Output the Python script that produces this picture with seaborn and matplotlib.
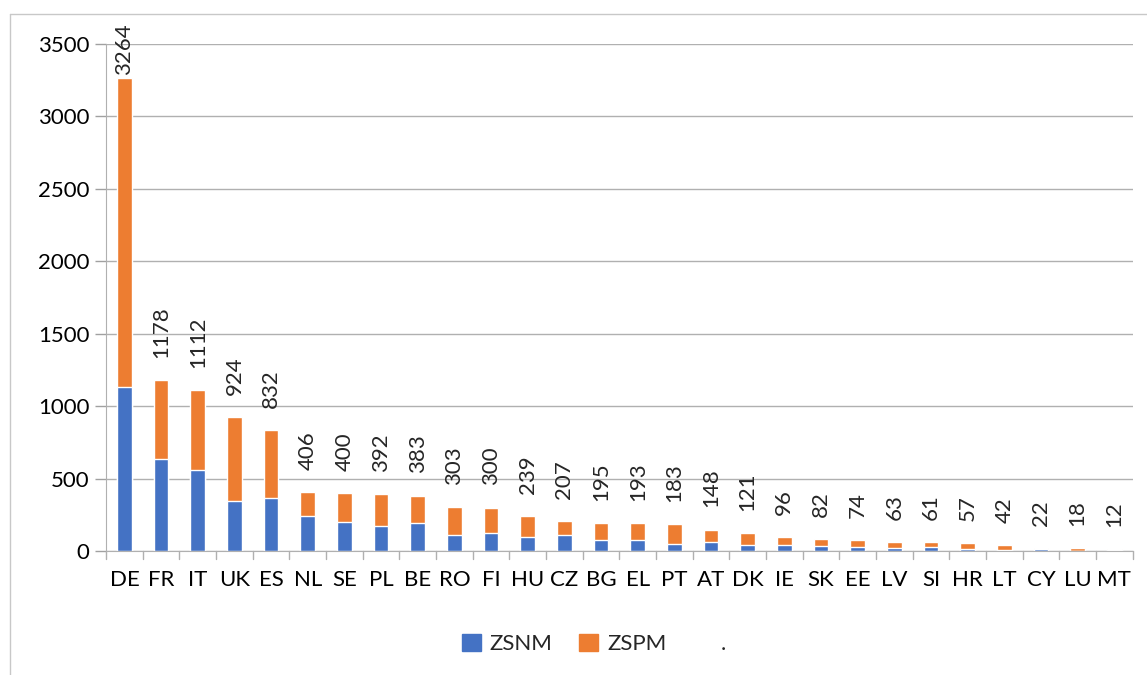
import pandas as pd
import seaborn as sns
import matplotlib.pyplot as plt
from matplotlib.patches import Patch
from matplotlib.lines import Line2D

countries = ['DE', 'FR', 'IT', 'UK', 'ES', 'NL', 'SE', 'PL', 'BE', 'RO', 'FI', 'HU', 'CZ', 'BG',
             'EL', 'PT', 'AT', 'DK', 'IE', 'SK', 'EE', 'LV', 'SI', 'HR', 'LT', 'CY', 'LU', 'MT']
totals = [3264, 1178, 1112, 924, 832, 406, 400, 392, 383, 303, 300, 239, 207, 195,
          193, 183, 148, 121, 96, 82, 74, 63, 61, 57, 42, 22, 18, 12]
zsnm = [1135, 633, 561, 345, 368, 244, 202, 175, 195, 110, 126, 99, 110, 78,
        78, 51, 64, 44, 41, 37, 30, 23, 26, 16, 9, 14, 3, 5]

df = pd.DataFrame({'country': countries, 'total': totals, 'zsnm': zsnm})

blue = '#4472C4'
orange = '#ED7D31'

sns.set_style('white')
plt.rcParams['font.family'] = ['Lato', 'DejaVu Sans']

fig = plt.figure(figsize=(11.47, 6.75), dpi=100)
ax = fig.add_axes([0.0925, 0.1837, 0.895, 0.7511])

# stacked look: full total in orange, ZSNM part drawn over it in blue
sns.barplot(data=df, x='country', y='total', order=countries, color=orange,
            width=0.4, saturation=1, ax=ax)
sns.barplot(data=df, x='country', y='zsnm', order=countries, color=blue,
            width=0.4, saturation=1, ax=ax)

# value labels; the tallest one is squeezed against the top like in the original
for i, t in enumerate(totals):
    pad = 2 if t > 3000 else 16
    ax.annotate(str(t), (i, t), xytext=(0, pad), textcoords='offset points',
                rotation=90, ha='center', va='bottom', fontsize=16, annotation_clip=False)

ax.set_ylim(0, 3500)
ax.set_xlim(-0.5, len(countries) - 0.5)
ax.set_yticks(range(0, 3501, 500))
ax.yaxis.grid(True, color='#b0b0b0', linewidth=1)
ax.set_axisbelow(True)
ax.set_xlabel('')
ax.set_ylabel('')
ax.tick_params(axis='both', labelsize=16, colors='#a0a0a0', labelcolor='black')
ax.tick_params(axis='y', length=8, direction='out', left=True, width=1, pad=4)
ax.tick_params(axis='x', length=0, pad=14)

# category boundary ticks like the original
for i in range(len(countries) + 1):
    ax.plot([i - 0.5, i - 0.5], [0, -0.016], transform=ax.get_xaxis_transform(),
            color='#b0b0b0', linewidth=1, clip_on=False)

for side in ['top', 'right']:
    ax.spines[side].set_visible(False)
ax.spines['left'].set_color('#b0b0b0')
ax.spines['bottom'].set_color('#b0b0b0')

handles = [Patch(color=blue, label='ZSNM'), Patch(color=orange, label='ZSPM'),
           Line2D([], [], color='none', label='.')]
fig.legend(handles=handles, loc='center', bbox_to_anchor=(0.518, 0.046), ncol=3,
           frameon=False, fontsize=16, handlelength=0.85, handleheight=0.85,
           columnspacing=1.2, handletextpad=0.4)

# outer chart border (left and top only are visible in the reference)
fig.add_artist(Line2D([10 / 1147, 10 / 1147], [0, 1 - 14 / 675], transform=fig.transFigure,
                      color='#c8c8c8', linewidth=1))
fig.add_artist(Line2D([10 / 1147, 1], [1 - 14 / 675, 1 - 14 / 675], transform=fig.transFigure,
                      color='#c8c8c8', linewidth=1))

fig.savefig('out.png', dpi=100)
